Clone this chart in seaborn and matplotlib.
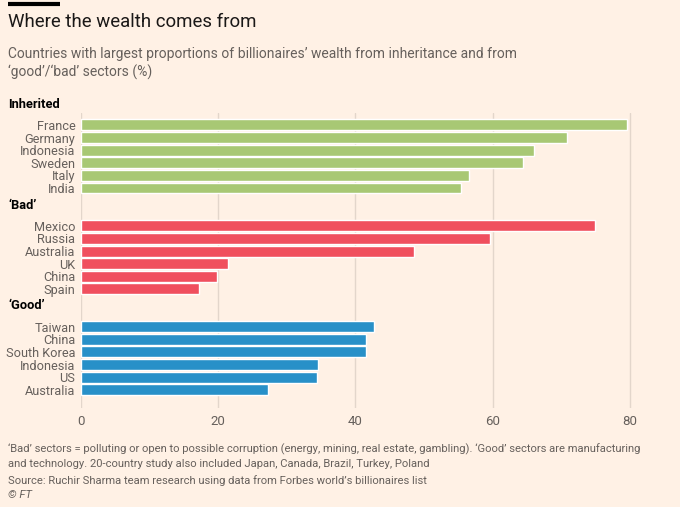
import numpy as np
import pandas as pd
import seaborn as sns
import matplotlib.pyplot as plt
from matplotlib import transforms

# data
groups = ['Inherited', '\u2018Bad\u2019', '\u2018Good\u2019']
inherited_countries = ['France', 'Germany', 'Indonesia', 'Sweden', 'Italy', 'India']
inherited_values = [79.6, 70.9, 66.1, 64.4, 56.5, 55.4]
bad_countries = ['Mexico', 'Russia', 'Australia', 'UK', 'China', 'Spain']
bad_values = [75.0, 59.7, 48.6, 21.5, 19.8, 17.2]
good_countries = ['Taiwan', 'China', 'South Korea', 'Indonesia', 'US', 'Australia']
good_values = [42.7, 41.6, 41.6, 34.6, 34.4, 27.2]
x_ticks = [0, 20, 40, 60, 80]

colors = ['#a8c874', '#f04f5e', '#2890c8']
bg = '#fff1e5'
grey = '#66605c'

rows = []
for g, (names, vals) in enumerate([(inherited_countries, inherited_values),
                                   (bad_countries, bad_values),
                                   (good_countries, good_values)]):
    for i, (n, v) in enumerate(zip(names, vals)):
        rows.append({'group': groups[g], 'country': n, 'value': v, 'pos': 8 * g + i})
df = pd.DataFrame(rows)

sns.set_theme(style='white')
plt.rcParams['font.family'] = ['Roboto', 'DejaVu Sans']

fig = plt.figure(figsize=(6.8, 5.07), dpi=100, facecolor=bg)
ax = fig.add_axes([81 / 680, 1 - 408 / 507, 583 / 680, (408 - 113) / 507])
ax.set_facecolor(bg)

sns.barplot(data=df, x='value', y='pos', hue='group', palette=colors,
            orient='h', native_scale=True, dodge=False, width=0.87,
            saturation=1, legend=False, ax=ax)

ax.set_xlim(0, 85)
ax.set_ylim(22.45, -0.95)
ax.set_xticks(x_ticks)
ax.set_xticklabels([str(t) for t in x_ticks], color=grey, fontsize=9.5)
ax.set_yticks(df['pos'])
ax.set_yticklabels(df['country'], color=grey, fontsize=9.2)
ax.tick_params(axis='both', length=0, pad=4)
ax.tick_params(axis='x', pad=5)
ax.set_xlabel('')
ax.set_ylabel('')
for s in ax.spines.values():
    s.set_visible(False)
ax.grid(axis='x', color='#e3d6cb', linewidth=1)
ax.set_axisbelow(True)

trans = transforms.blended_transform_factory(fig.transFigure, ax.transData)
for g, name in enumerate(groups):
    ax.text(8 / 680, 8 * g - 1.65, name, transform=trans, fontsize=9.3,
            fontweight='bold', color='#000000', va='center', ha='left', clip_on=False)

# header
fig.add_artist(plt.Line2D([8 / 680, 60 / 680], [1 - 4 / 507, 1 - 4 / 507],
                          color='#000000', linewidth=3, solid_capstyle='butt'))
fig.text(8 / 680, 1 - 22 / 507, 'Where the wealth comes from', fontsize=13.4,
         color='#1a1817', va='center', ha='left')
fig.text(8 / 680, 1 - 54 / 507,
         'Countries with largest proportions of billionaires\u2019 wealth from inheritance and from',
         fontsize=10, color=grey, va='center', ha='left')
fig.text(8 / 680, 1 - 72 / 507, '\u2018good\u2019/\u2018bad\u2019 sectors (%)',
         fontsize=10, color=grey, va='center', ha='left')

notes = [
    '\u2018Bad\u2019 sectors = polluting or open to possible corruption (energy, mining, real estate, gambling). \u2018Good\u2019 sectors are manufacturing',
    'and technology. 20-country study also included Japan, Canada, Brazil, Turkey, Poland',
    'Source: Ruchir Sharma team research using data from Forbes world\u2019s billionaires list',
]
for y, t in zip([449, 464, 481], notes):
    fig.text(8 / 680, 1 - y / 507, t, fontsize=8.1, color=grey, va='center', ha='left')
fig.text(8 / 680, 1 - 495 / 507, '\u00a9 FT', fontsize=8.1, color=grey, va='center',
         ha='left', style='italic')

fig.savefig('out.png', dpi=100, facecolor=bg)
